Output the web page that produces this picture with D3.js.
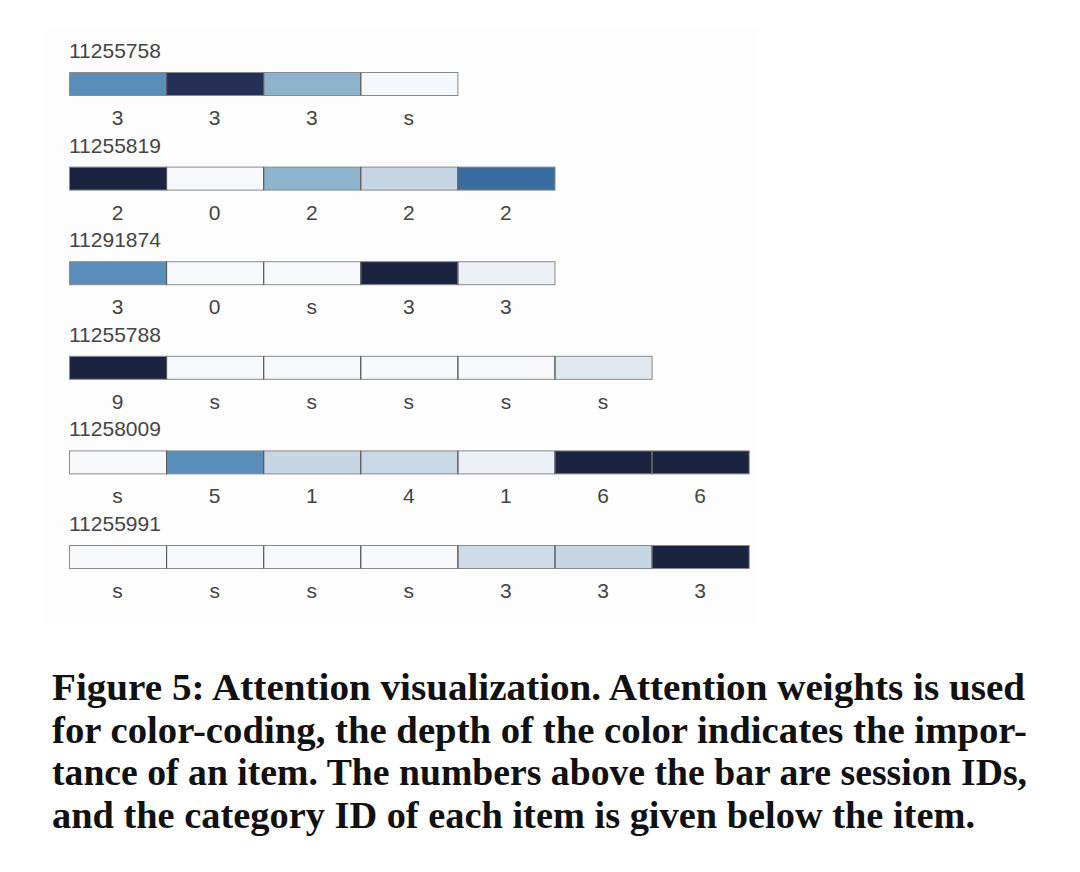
<!DOCTYPE html>
<html>
<head>
<meta charset="utf-8">
<script src="https://cdn.jsdelivr.net/npm/d3@7"></script>
<style>
  body { margin: 0; background: #fff; }
</style>
</head>
<body>
<svg id="chart" width="1080" height="872"></svg>
<script>
// session ids shown above each bar
const sessions = ['11255758', '11255819', '11291874', '11255788', '11258009', '11255991'];

// attention weight for each item (0 = light, 1 = darkest)
const weights = [
    [0.60, 0.87, 0.45, 0.02],
    [1.00, 0.01, 0.45, 0.30, 0.70],
    [0.60, 0.01, 0.01, 1.00, 0.08],
    [1.00, 0.01, 0.01, 0.01, 0.01, 0.15],
    [0.01, 0.60, 0.30, 0.28, 0.08, 1.00, 1.00],
    [0.01, 0.01, 0.01, 0.01, 0.25, 0.30, 1.00]
];

// category id below each item
const categories = [
    ['3', '3', '3', 's'],
    ['2', '0', '2', '2', '2'],
    ['3', '0', 's', '3', '3'],
    ['9', 's', 's', 's', 's', 's'],
    ['s', '5', '1', '4', '1', '6', '6'],
    ['s', 's', 's', 's', '3', '3', '3']
];

const caption = [
    'Figure 5: Attention visualization. Attention weights is used',
    'for color-coding, the depth of the color indicates the impor-',
    'tance of an item. The numbers above the bar are session IDs,',
    'and the category ID of each item is given below the item.'
];

const svg = d3.select('#chart');
const maxItems = d3.max(weights, d => d.length);

const x = d3.scaleBand()
    .domain(d3.range(maxItems))
    .range([69, 69 + maxItems * 97.1])
    .paddingInner(0);

const y = d3.scaleLinear()
    .domain([0, sessions.length - 1])
    .range([72, 545]);

const barH = 23;

const color = d3.scaleLinear()
    .domain([0, 0.1, 0.2, 0.3, 0.45, 0.6, 0.7, 0.87, 1])
    .range(['#f7f9fc', '#e9eff6', '#d6e2ec', '#c6d6e5', '#8db4cc', '#5a8eba', '#3a6c9f', '#232f55', '#1a2441'])
    .clamp(true);

// very faint panel behind the plot, as in the exported figure
svg.append('rect')
    .attr('x', 45).attr('y', 28)
    .attr('width', 713).attr('height', 594)
    .attr('fill', '#fdfdfd');

const rows = svg.append('g')
    .selectAll('g')
    .data(sessions)
    .join('g')
    .attr('transform', (d, i) => `translate(0,${y(i)})`);

rows.append('text')
    .attr('x', x(0))
    .attr('y', -14)
    .attr('fill', '#444')
    .style('font-family', "'Liberation Sans', Arial, sans-serif")
    .style('font-size', '21px')
    .text(d => d);

const cells = rows.selectAll('g.cell')
    .data((d, i) => weights[i].map((w, j) => ({w: w, cat: categories[i][j], j: j})))
    .join('g')
    .attr('class', 'cell');

cells.append('rect')
    .attr('x', d => x(d.j) + 0.5)
    .attr('y', 0.5)
    .attr('width', x.bandwidth())
    .attr('height', barH)
    .attr('fill', d => color(d.w))
    .attr('stroke', '#8a8a8a')
    .attr('stroke-width', 1);

// darker separators between items
cells.filter(d => d.j > 0).append('line')
    .attr('x1', d => x(d.j) + 0.5)
    .attr('x2', d => x(d.j) + 0.5)
    .attr('y1', 0.5)
    .attr('y2', barH + 0.5)
    .attr('stroke', '#555')
    .attr('stroke-width', 1);

cells.append('text')
    .attr('x', d => x(d.j) + x.bandwidth() / 2)
    .attr('y', barH + 30)
    .attr('text-anchor', 'middle')
    .attr('fill', '#444')
    .style('font-family', "'Liberation Sans', Arial, sans-serif")
    .style('font-size', '21px')
    .text(d => d.cat);

const captionWidths = [973, 975, 975, 923];

svg.append('g')
    .selectAll('text')
    .data(caption)
    .join('text')
    .attr('x', 52)
    .attr('y', (d, i) => 700 + i * 42.7)
    .attr('textLength', (d, i) => captionWidths[i])
    .attr('lengthAdjust', 'spacingAndGlyphs')
    .attr('fill', '#111')
    .style('font-family', "'Liberation Serif', 'Times New Roman', serif")
    .style('font-weight', 'bold')
    .style('font-size', '37px')
    .text(d => d);
</script>
</body>
</html>
